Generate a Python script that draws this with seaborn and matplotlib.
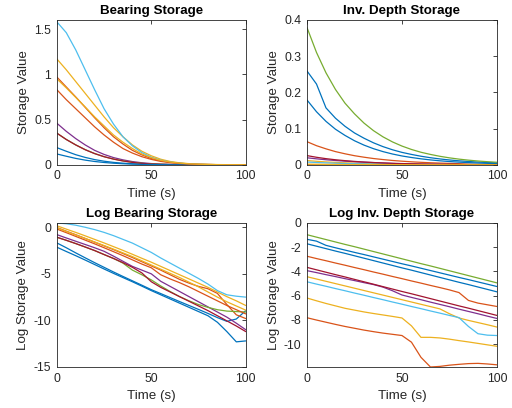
import pandas as pd
import seaborn as sns
import matplotlib
matplotlib.use("Agg")
import matplotlib.pyplot as plt
import numpy as np

# time axis (s)
time = [0, 5, 10, 15, 20, 25, 30, 35, 40, 45, 50, 55, 60, 65, 70, 75, 80, 85, 90, 95, 100]

# MATLAB default colour order, cycled over 10 lines
matlab_colors = ["#0072BD", "#D95319", "#EDB120", "#7E2F8E", "#77AC30", "#4DBEEE", "#A2142F"]
line_ids = ["L01", "L02", "L03", "L04", "L05", "L06", "L07", "L08", "L09", "L10"]

# Bearing storage (linear)
bear_1 = [0.19, 0.15, 0.112, 0.082, 0.058, 0.04, 0.027, 0.018, 0.012, 0.008, 0.005, 0.003, 0.002, 0.001, 0.001, 0, 0, 0, 0, 0, 0]
bear_2 = [0.97, 0.86, 0.75, 0.635, 0.52, 0.41, 0.31, 0.23, 0.16, 0.11, 0.07, 0.045, 0.028, 0.017, 0.01, 0.006, 0.004, 0.002, 0.001, 0.001, 0]
bear_3 = [1.17, 1.05, 0.92, 0.79, 0.66, 0.53, 0.41, 0.31, 0.22, 0.15, 0.1, 0.062, 0.037, 0.022, 0.013, 0.008, 0.005, 0.003, 0.002, 0.001, 0]
bear_4 = [0.46, 0.37, 0.29, 0.22, 0.16, 0.115, 0.08, 0.055, 0.036, 0.023, 0.014, 0.008, 0.005, 0.003, 0.002, 0.001, 0, 0, 0, 0, 0]
bear_5 = [0.35, 0.28, 0.22, 0.168, 0.125, 0.09, 0.064, 0.044, 0.028, 0.017, 0.01, 0.006, 0.004, 0.002, 0.001, 0.001, 0, 0, 0, 0, 0]
bear_6 = [1.58, 1.46, 1.27, 1.05, 0.83, 0.62, 0.45, 0.31, 0.21, 0.135, 0.085, 0.052, 0.031, 0.018, 0.01, 0.006, 0.003, 0.002, 0.001, 0.001, 0.0005]
bear_7 = [0.35, 0.28, 0.22, 0.167, 0.124, 0.09, 0.063, 0.043, 0.027, 0.016, 0.009, 0.005, 0.003, 0.002, 0.001, 0.001, 0, 0, 0, 0, 0]
bear_8 = [0.12, 0.095, 0.071, 0.052, 0.037, 0.026, 0.018, 0.012, 0.008, 0.005, 0.003, 0.002, 0.001, 0.001, 0, 0, 0, 0, 0, 0, 0]
bear_9 = [0.83, 0.72, 0.62, 0.52, 0.42, 0.33, 0.25, 0.18, 0.13, 0.09, 0.06, 0.038, 0.024, 0.015, 0.009, 0.005, 0.003, 0.002, 0.001, 0.001, 0]
bear_10 = [0.95, 0.85, 0.745, 0.64, 0.53, 0.43, 0.33, 0.25, 0.18, 0.12, 0.08, 0.05, 0.031, 0.019, 0.011, 0.007, 0.004, 0.002, 0.001, 0.001, 0]

# Log bearing storage
lbear_1 = [-1.68, -2.2, -2.75, -3.28, -3.8, -4.3, -4.8, -5.28, -5.75, -6.22, -6.7, -7.12, -7.55, -7.98, -8.4, -8.82, -9.25, -9.7, -10.1, -9.85, -8.95]
lbear_2 = [-0.03, -0.42, -0.8, -1.2, -1.6, -2.0, -2.4, -2.82, -3.25, -3.7, -4.15, -4.6, -5.1, -5.6, -6.0, -6.35, -6.6, -7.1, -8.3, -9.4, -9.8]
lbear_3 = [0.16, -0.2, -0.55, -0.92, -1.3, -1.68, -2.08, -2.48, -2.9, -3.33, -3.75, -4.2, -4.65, -5.1, -5.55, -6.0, -6.45, -6.95, -7.45, -7.9, -8.4]
lbear_4 = [-0.79, -1.15, -1.5, -1.85, -2.2, -2.58, -3.1, -3.65, -4.2, -4.6, -5.0, -5.8, -6.35, -6.9, -7.45, -8.0, -8.55, -9.1, -9.65, -10.3, -11.0]
lbear_5 = [-1.07, -1.4, -1.75, -2.12, -2.5, -2.93, -3.35, -3.85, -4.6, -5.1, -5.65, -6.3, -6.9, -7.45, -7.9, -8.3, -8.6, -8.85, -9.0, -9.05, -9.1]
lbear_6 = [0.46, 0.38, 0.22, 0.0, -0.25, -0.55, -0.9, -1.3, -1.7, -2.2, -2.7, -3.3, -3.85, -4.4, -4.95, -5.5, -6.1, -6.8, -7.25, -7.4, -7.5]
lbear_7 = [-1.07, -1.4, -1.75, -2.12, -2.5, -2.93, -3.35, -3.8, -4.3, -4.9, -5.85, -6.45, -6.95, -7.45, -7.95, -8.45, -8.95, -9.5, -10.05, -10.6, -11.2]
lbear_8 = [-2.14, -2.6, -3.05, -3.52, -4.0, -4.48, -4.95, -5.4, -5.85, -6.32, -6.8, -7.25, -7.7, -8.15, -8.6, -9.05, -9.5, -10.2, -11.2, -12.3, -12.2]
lbear_9 = [-0.19, -0.58, -0.98, -1.38, -1.78, -2.2, -2.62, -3.05, -3.5, -3.95, -4.35, -5.1, -5.55, -5.95, -6.4, -6.9, -7.4, -7.9, -8.4, -8.85, -9.3]
lbear_10 = [-0.06, -0.45, -0.83, -1.2, -1.58, -1.96, -2.35, -2.75, -3.15, -3.6, -4.05, -4.5, -4.95, -5.4, -5.9, -6.4, -6.95, -7.5, -8.0, -8.45, -8.9]

# Log inverse depth storage (the linear panel is exp of these)
linv_1 = [-1.35, -1.5, -1.85, -2.05, -2.24, -2.43, -2.61, -2.8, -2.99, -3.18, -3.37, -3.55, -3.74, -3.93, -4.12, -4.31, -4.5, -4.68, -4.87, -5.06, -5.25]
linv_2 = [-2.75, -2.94, -3.12, -3.31, -3.49, -3.68, -3.86, -4.05, -4.23, -4.42, -4.6, -4.79, -4.97, -5.16, -5.34, -5.53, -5.75, -6.4, -6.62, -6.76, -6.9]
linv_3 = [-4.44, -4.63, -4.82, -5.01, -5.2, -5.39, -5.58, -5.77, -5.96, -6.15, -6.34, -6.53, -6.72, -6.91, -7.1, -7.5, -7.85, -8.05, -8.23, -8.41, -8.6]
linv_4 = [-3.94, -4.1, -4.27, -4.43, -4.6, -4.76, -4.93, -5.09, -5.3, -5.6, -5.95, -6.15, -6.34, -6.54, -6.73, -6.92, -7.12, -7.31, -7.5, -7.7, -7.89]
linv_5 = [-0.97, -1.17, -1.37, -1.57, -1.77, -1.96, -2.16, -2.36, -2.56, -2.76, -2.96, -3.16, -3.36, -3.55, -3.75, -3.95, -4.15, -4.35, -4.55, -4.75, -4.95]
linv_6 = [-4.86, -5.05, -5.23, -5.42, -5.6, -5.79, -5.97, -6.16, -6.34, -6.53, -6.71, -6.9, -7.08, -7.27, -7.45, -7.64, -7.82, -8.55, -9.15, -9.27, -9.3]
linv_7 = [-3.67, -3.87, -4.07, -4.27, -4.46, -4.66, -4.86, -5.06, -5.26, -5.46, -5.66, -5.85, -6.05, -6.25, -6.45, -6.65, -6.85, -7.04, -7.24, -7.44, -7.64]
linv_8 = [-1.72, -1.92, -2.12, -2.32, -2.51, -2.71, -2.91, -3.11, -3.31, -3.51, -3.71, -3.9, -4.1, -4.3, -4.5, -4.7, -4.9, -5.09, -5.29, -5.49, -5.69]
linv_9 = [-7.83, -8.02, -8.2, -8.38, -8.55, -8.7, -8.85, -8.98, -9.1, -9.2, -9.3, -9.85, -11.1, -11.9, -11.85, -11.75, -11.68, -11.62, -11.6, -11.65, -11.72]
linv_10 = [-6.2, -6.43, -6.65, -6.85, -7.05, -7.2, -7.35, -7.48, -7.6, -7.72, -7.85, -8.5, -9.45, -9.45, -9.5, -9.6, -9.72, -9.83, -9.95, -10.07, -10.19]

bearing = [bear_1, bear_2, bear_3, bear_4, bear_5, bear_6, bear_7, bear_8, bear_9, bear_10]
log_bearing = [lbear_1, lbear_2, lbear_3, lbear_4, lbear_5, lbear_6, lbear_7, lbear_8, lbear_9, lbear_10]
log_inv = [linv_1, linv_2, linv_3, linv_4, linv_5, linv_6, linv_7, linv_8, linv_9, linv_10]
inv = [list(np.exp(v)) for v in log_inv]


def to_long(series):
    rows = []
    for lid, vals in zip(line_ids, series):
        for t, v in zip(time, vals):
            rows.append({"time": t, "value": v, "line": lid})
    return pd.DataFrame(rows)


palette = {lid: matlab_colors[i % len(matlab_colors)] for i, lid in enumerate(line_ids)}

sns.set_style("white")
plt.rcParams["font.family"] = ["Liberation Sans", "DejaVu Sans"]
plt.rcParams["axes.unicode_minus"] = False

fig = plt.figure(figsize=(5.12, 4.08), dpi=100)

panels = [
    ("Bearing Storage", bearing, "Storage Value", (0, 1.6), [0, 0.5, 1, 1.5], ["0", "0.5", "1", "1.5"],
     [0.111, 0.596, 0.369, 0.355]),
    ("Inv. Depth Storage", inv, "Storage Value", (0, 0.4), [0, 0.1, 0.2, 0.3, 0.4], ["0", "0.1", "0.2", "0.3", "0.4"],
     [0.5996, 0.596, 0.371, 0.355]),
    ("Log Bearing Storage", log_bearing, "Log Storage Value", (-15, 0.46), [-15, -10, -5, 0], ["-15", "-10", "-5", "0"],
     [0.111, 0.1005, 0.369, 0.353]),
    ("Log Inv. Depth Storage", log_inv, "Log Storage Value", (-11.9, 0), [-10, -8, -6, -4, -2, 0],
     ["-10", "-8", "-6", "-4", "-2", "0"], [0.5996, 0.1005, 0.371, 0.353]),
]

ink = "#262626"
for title, series, ylab, ylim, yt, ytl, pos in panels:
    ax = fig.add_axes(pos)
    df = to_long(series)
    sns.lineplot(data=df, x="time", y="value", hue="line", hue_order=line_ids,
                 palette=palette, legend=False, linewidth=0.9, errorbar=None, ax=ax)
    ax.set_xlim(0, 100)
    ax.set_ylim(*ylim)
    ax.set_xticks([0, 50, 100])
    ax.set_xticklabels(["0", "50", "100"])
    ax.set_yticks(yt)
    ax.set_yticklabels(ytl)
    ax.tick_params(direction="in", length=3, width=0.6, top=True, right=True,
                   labelsize=8.8, colors=ink, pad=4)
    for s in ax.spines.values():
        s.set_color(ink)
        s.set_linewidth(0.6)
    ax.set_title(title, fontsize=9.6, fontweight="bold", color="black", pad=4)
    ax.set_xlabel("Time (s)", fontsize=9.6, color=ink, labelpad=4)
    ax.set_ylabel(ylab, fontsize=9.6, color=ink, labelpad=3)

fig.savefig("out.png", dpi=100)
plt.close(fig)
